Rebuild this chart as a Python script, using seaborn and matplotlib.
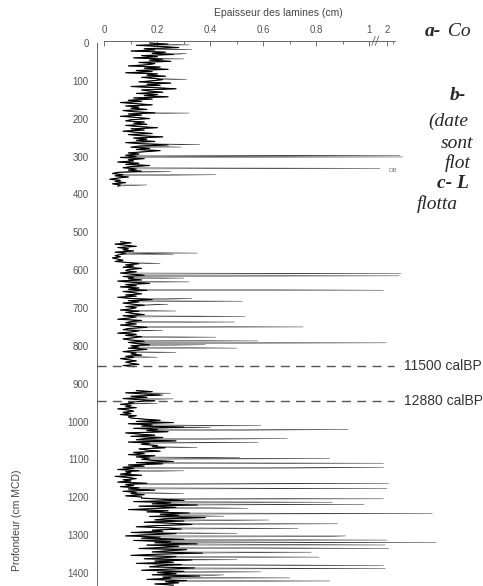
"""
Lamina thickness profile (Epaisseur des lamines) versus depth, with a broken
top axis (0-1 cm linear, then compressed above 1 cm).
"""

import matplotlib

matplotlib.use("Agg")
import matplotlib.pyplot as plt
import matplotlib.transforms as mtransforms
import numpy as np
import pandas as pd
import seaborn as sns
from matplotlib.ticker import FixedLocator, MultipleLocator

# ---------------------------------------------------------------------------
# Data (thickness in cm, depth in cm MCD)
# ---------------------------------------------------------------------------
SECTION_A = (0, 378)
THICK_A = [
    0.17, 0.24, 0.12, 0.21, 0.28, 0.15, 0.19, 0.10, 0.23, 0.18,
    0.26, 0.14, 0.20, 0.11, 0.22, 0.17, 0.25, 0.13, 0.19, 0.16,
    0.09, 0.21, 0.15, 0.24, 0.12, 0.18, 0.08, 0.20, 0.16, 0.23, 0.14, 0.19, 0.22,
    0.18, 0.13, 0.25, 0.16, 0.21, 0.10, 0.19, 0.27, 0.14, 0.17, 0.22, 0.12, 0.20,
    0.15, 0.24, 0.11, 0.18,
    0.09, 0.14, 0.06, 0.12, 0.18, 0.08, 0.13, 0.10, 0.16, 0.07, 0.11, 0.19, 0.09,
    0.14, 0.06, 0.12, 0.17, 0.10, 0.08, 0.15,
    0.11, 0.16, 0.08, 0.13, 0.20, 0.10, 0.15, 0.07, 0.12, 0.18, 0.09, 0.14, 0.22,
    0.11, 0.16, 0.12, 0.19, 0.08, 0.14, 0.24, 0.13, 0.10, 0.17, 0.12, 0.21, 0.15,
    0.09, 0.13,
    0.08, 0.12, 0.06, 0.15, 0.09, 0.11, 0.05, 0.13, 0.08, 0.17, 0.10, 0.07, 0.12,
    0.09, 0.14,
    0.05, 0.03, 0.07, 0.04, 0.09, 0.05, 0.02, 0.06, 0.04, 0.08, 0.03, 0.06, 0.05,
]
SPIKE_DEPTH_A = [5, 17, 28, 42, 96, 185, 268, 275, 297, 301, 331, 340, 348, 375]
SPIKE_THICK_A = [0.32, 0.33, 0.31, 0.30, 0.31, 0.32, 0.36, 0.29, 2.75, 2.9,
                 1.6, 0.25, 0.42, 0.16]

SECTION_B = (525, 855)
THICK_B = [
    0.06, 0.10, 0.04, 0.08, 0.12, 0.05, 0.09, 0.07, 0.11, 0.04, 0.08, 0.06,
    0.04, 0.06, 0.03, 0.05, 0.07, 0.04, 0.09, 0.13, 0.08, 0.11, 0.07, 0.14, 0.09,
    0.08, 0.12, 0.06, 0.10, 0.15, 0.07, 0.11, 0.09, 0.14, 0.05, 0.10, 0.17, 0.08,
    0.12, 0.06, 0.13, 0.09, 0.16, 0.07, 0.11, 0.14, 0.08, 0.12, 0.05, 0.10, 0.18,
    0.09, 0.13, 0.07, 0.11, 0.15, 0.08, 0.12,
    0.10, 0.06, 0.13, 0.08, 0.11, 0.15, 0.07, 0.12, 0.09, 0.05, 0.14, 0.10, 0.08,
    0.12, 0.06, 0.11, 0.16, 0.09, 0.07, 0.13, 0.10, 0.05, 0.12, 0.08, 0.14, 0.11,
    0.07, 0.10, 0.15, 0.09, 0.12, 0.17, 0.10,
    0.13, 0.09, 0.16, 0.11, 0.07, 0.12, 0.10, 0.14, 0.08, 0.11, 0.06, 0.09, 0.12,
    0.08, 0.10, 0.13, 0.07, 0.11,
]
SPIKE_DEPTH_B = [555, 558, 582, 609, 615, 621, 631, 653, 675, 682, 690, 708,
                 722, 737, 750, 760, 777, 787, 792, 797, 806, 817, 830]
SPIKE_THICK_B = [0.35, 0.26, 0.21, 2.8, 2.7, 0.30, 0.32, 1.8, 0.33, 0.52, 0.24,
                 0.27, 0.53, 0.49, 0.75, 0.22, 0.42, 0.58, 1.95, 0.38, 0.50,
                 0.27, 0.20]

SECTION_C = (918, 1432)
THICK_C = [
    0.12, 0.18, 0.08, 0.15, 0.21, 0.10, 0.16, 0.07, 0.13, 0.19, 0.09, 0.11,
    0.06, 0.10, 0.08, 0.12, 0.05, 0.09, 0.11, 0.07, 0.10, 0.06, 0.12, 0.09,
    0.10, 0.15, 0.21, 0.12, 0.26, 0.09, 0.18, 0.14, 0.30, 0.11, 0.20, 0.16, 0.24,
    0.08, 0.13, 0.19, 0.10, 0.22, 0.15, 0.12, 0.27, 0.09, 0.17, 0.14, 0.20, 0.18,
    0.23, 0.13, 0.16, 0.21, 0.11, 0.15, 0.09, 0.19, 0.12, 0.17, 0.14,
    0.18, 0.26, 0.12, 0.22, 0.09, 0.15, 0.07, 0.11, 0.05, 0.13, 0.08, 0.10, 0.06,
    0.14, 0.04, 0.09, 0.12, 0.07, 0.10, 0.05, 0.16, 0.08, 0.11, 0.06, 0.13, 0.09,
    0.19, 0.07, 0.12, 0.10, 0.15, 0.08, 0.14,
    0.14, 0.22, 0.30, 0.11, 0.25, 0.18, 0.35, 0.13, 0.27, 0.20, 0.09, 0.24, 0.16,
    0.32, 0.21, 0.28, 0.17, 0.38, 0.23, 0.19, 0.30, 0.15, 0.26, 0.33, 0.20, 0.12,
    0.24, 0.29, 0.18, 0.22, 0.10, 0.27, 0.16,
    0.08, 0.21, 0.14, 0.30, 0.11, 0.25, 0.19, 0.35, 0.16, 0.28, 0.22, 0.13, 0.31,
    0.24, 0.18, 0.37, 0.20, 0.10, 0.27, 0.23, 0.15, 0.33, 0.19, 0.26, 0.12, 0.29,
    0.21, 0.17, 0.34, 0.24, 0.14, 0.30, 0.20, 0.27, 0.18, 0.36, 0.22, 0.25, 0.16,
    0.31, 0.23, 0.28, 0.19, 0.26,
]
SPIKE_DEPTH_C = [925, 930, 940, 952, 1011, 1016, 1021, 1023, 1045, 1055, 1068,
                 1095, 1098, 1110, 1121, 1123, 1130, 1163, 1165, 1177, 1190,
                 1204, 1213, 1219, 1229, 1243, 1250, 1260, 1270, 1282, 1295,
                 1302, 1304, 1313, 1320, 1326, 1335, 1345, 1358, 1365, 1380,
                 1388, 1397, 1405, 1413, 1421]
SPIKE_THICK_C = [0.25, 0.22, 0.26, 0.20, 0.59, 0.40, 0.92, 0.50, 0.69, 0.58,
                 0.35, 0.51, 0.85, 1.8, 1.8, 0.69, 0.30, 2.1, 0.50, 2.0, 0.30,
                 1.8, 0.86, 0.98, 0.54, 4.6, 0.45, 0.62, 0.88, 0.73, 0.50, 0.91,
                 0.83, 2.0, 4.8, 1.9, 2.1, 0.78, 0.81, 0.50, 1.8, 1.9, 0.59,
                 0.45, 0.70, 0.85]

DATE_DEPTHS = [853, 945]
DATE_LABELS = ["11500 calBP", "12880 calBP"]

X_TICKS = [0, 0.2, 0.4, 0.6, 0.8, 1, 2]
X_TICK_LABELS = ["0", "0.2", "0.4", "0.6", "0.8", "1", "2"]
X_MINOR = [0.1, 0.3, 0.5, 0.7, 0.9, 2.35]
Y_TICKS = list(range(0, 1500, 100))

# Compression of the axis above 1 cm (1 -> 2 cm takes ~6.6 % of 0 -> 1 cm)
BREAK_FACTOR = 0.066
GREY = "#555555"


def forward(v):
    v = np.asarray(v, dtype=float)
    return np.where(v <= 1, v, 1 + (v - 1) * BREAK_FACTOR)


def inverse(u):
    u = np.asarray(u, dtype=float)
    return np.where(u <= 1, u, 1 + (u - 1) / BREAK_FACTOR)


def build_section(name, span, thick, spike_depth, spike_thick):
    depth = np.linspace(span[0], span[1], len(thick))
    core = pd.DataFrame({"profondeur": depth, "epaisseur": thick, "kind": "core"})
    spikes = pd.DataFrame(
        {"profondeur": spike_depth, "epaisseur": spike_thick, "kind": "spike"}
    )
    df = pd.concat([core, spikes], ignore_index=True)
    df["section"] = name
    return df.sort_values("profondeur", kind="stable")


def main():
    laminae = pd.concat(
        [
            build_section("A", SECTION_A, THICK_A, SPIKE_DEPTH_A, SPIKE_THICK_A),
            build_section("B", SECTION_B, THICK_B, SPIKE_DEPTH_B, SPIKE_THICK_B),
            build_section("C", SECTION_C, THICK_C, SPIKE_DEPTH_C, SPIKE_THICK_C),
        ],
        ignore_index=True,
    )

    sns.set_style("white")
    plt.rcParams["font.family"] = ["Liberation Sans", "DejaVu Sans"]

    fig = plt.figure(figsize=(4.83, 5.86), dpi=100)
    ax = fig.add_axes([97 / 483, 0.0, 386 / 483, 1 - 41 / 586])

    line_kws = dict(x="epaisseur", y="profondeur", units="section",
                    estimator=None, orient="y", ax=ax, legend=False)
    # full record (thin: the isolated thick laminae show as fine grey lines)
    sns.lineplot(data=laminae, color="#333333", linewidth=0.35, **line_kws)
    # background laminae drawn heavier so the dense core reads as a dark band
    sns.lineplot(data=laminae[laminae["kind"] == "core"], color="black",
                 linewidth=0.8, **line_kws)

    ax.set_xscale("function", functions=(forward, inverse))
    ax.set_xlim(-0.0283, float(inverse(378.5 / 265)))
    ax.set_ylim(1434.3, -5.3)

    # date markers
    ax.hlines(DATE_DEPTHS, -0.0283, 2.4, colors=GREY,
              linestyles=(0, (6.5, 4.5)), linewidth=1.0)
    for depth, label in zip(DATE_DEPTHS, DATE_LABELS):
        ax.text(2.95, depth, label, ha="left", va="center",
                fontsize=10, color="#333333")
    ax.text(2.1, 337, "DB", ha="left", va="center", fontsize=4.5, color="#777777")

    # spines
    for side in ("right", "bottom"):
        ax.spines[side].set_visible(False)
    ax.spines["top"].set_bounds(0, 2.45)
    ax.spines["left"].set_bounds(0, 1434.3)
    for side in ("top", "left"):
        ax.spines[side].set_color("#666666")
        ax.spines[side].set_linewidth(0.7)

    # top axis
    ax.xaxis.tick_top()
    ax.set_xticks(X_TICKS)
    ax.set_xticklabels(X_TICK_LABELS)
    ax.xaxis.set_minor_locator(FixedLocator(X_MINOR))
    ax.tick_params(axis="x", which="both", direction="in", colors=GREY,
                   labelsize=7, width=0.6, pad=4)
    ax.tick_params(axis="x", which="major", length=3.5)
    ax.tick_params(axis="x", which="minor", length=2)
    ax.set_xlabel("")

    # axis break mark "//"
    trans = mtransforms.blended_transform_factory(ax.transData, ax.transAxes)
    for x0, x1 in ((1.13, 1.33), (1.33, 1.53)):
        ax.plot([x0, x1], [0.992, 1.009], color="#666666", lw=0.6,
                transform=trans, clip_on=False)

    # left axis
    ax.set_yticks(Y_TICKS)
    ax.yaxis.set_minor_locator(MultipleLocator(10))
    ax.tick_params(axis="y", which="both", direction="out", colors=GREY,
                   labelsize=7, width=0.6, pad=2)
    ax.tick_params(axis="y", which="major", length=4)
    ax.tick_params(axis="y", which="minor", length=2)
    ax.set_ylabel("Profondeur (cm MCD)", fontsize=7.5, color="#444444")
    ax.yaxis.set_label_coords(-0.195, 0.12)

    fig.text(278 / 483, 1 - 13 / 586, "Epaisseur des lamines (cm)",
             ha="center", va="center", fontsize=7.5, color="#444444")

    # cropped caption fragments on the right
    serif = ["Liberation Serif", "DejaVu Serif"]
    captions = [
        (425, 31, "a-", "bold"), (443, 31, " Co", "normal"),
        (450, 96, "b-", "bold"),
        (428, 121, "(date", "normal"),
        (441, 143, "sont", "normal"),
        (445, 163, "flot", "normal"),
        (437, 183, "c- L", "bold"),
        (417, 204, "flotta", "normal"),
    ]
    for x, y, txt, weight in captions:
        fig.text(x / 483, 1 - y / 586, txt, ha="left", va="center",
                 fontsize=14, style="italic", weight=weight, family=serif)

    fig.savefig("out.png", dpi=100)
    plt.close(fig)


if __name__ == "__main__":
    main()
